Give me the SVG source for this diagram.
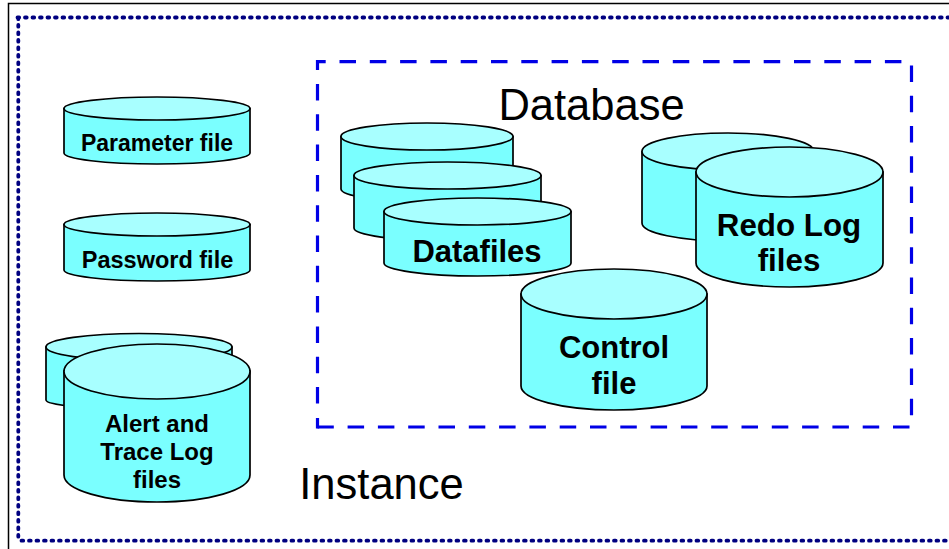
<svg xmlns="http://www.w3.org/2000/svg" width="949" height="549" viewBox="0 0 949 549">
<style>
text{font-family:"Liberation Sans",Arial,sans-serif;text-anchor:middle;fill:#000}
.b{font-weight:bold}
.l{font-size:43.500px}
.body{fill:#7affff;stroke:#000;stroke-width:1.700}
.top{fill:#a8ffff;stroke:#000;stroke-width:1.700}
.inst{fill:none;stroke:#000080;stroke-width:3.800;stroke-dasharray:1.700 5.800;stroke-linecap:round}
.db{fill:none;stroke:#0000e6;stroke-width:3.200;stroke-dasharray:16.500 13.800}
</style>
<rect width="949" height="549" fill="#fff"/>
<path d="M8.500 549V3.500H949" fill="none" stroke="#000" stroke-width="1.500"/>
<g id="instance-boundary"><path class="inst" d="M17.500 17.500H980M18.300 17.500V541M21.500 540.700H980"/></g>
<g id="database-boundary"><path class="db" d="M317.500 70V61.700H911.500V427H317.500"/><path class="db" d="M317.500 428.600V418M317.500 403.500V83"/></g>
<text id="database-label" x="591.500" y="120" class="l">Database</text>
<text id="instance-label" x="381.500" y="499" class="l">Instance</text>
<g id="parameter-file"><path class="body" d="M64 108.500V153C64 159 105 164 157 164S250 159 250 153V108.500Z"/><ellipse class="top" cx="157" cy="108.500" rx="93" ry="11.500"/><text class="b" font-size="23" x="157" y="151">Parameter file</text></g>
<g id="password-file"><path class="body" d="M64 224.500V270C64 276 105 281 157 281S250 276 250 270V224.500Z"/><ellipse class="top" cx="157" cy="224.500" rx="93" ry="11.500"/><text class="b" font-size="23.500" x="157.500" y="268">Password file</text></g>
<g id="alert-back"><path class="body" d="M46 347V400C46 405 87 409 139 409S232 405 232 400V347Z"/><ellipse class="top" cx="139" cy="347" rx="93" ry="13.500"/></g>
<g id="alert-trace-log-files"><path class="body" d="M64 371V475C64 490 105 502 157 502S250 490 250 475V371Z"/><ellipse class="top" cx="157" cy="371.500" rx="93" ry="27.500"/><text class="b" font-size="24" x="157" y="432">Alert and</text><text class="b" font-size="24" x="157" y="460">Trace Log</text><text class="b" font-size="24" x="157" y="488">files</text></g>
<g id="datafile-1"><path class="body" d="M341 136.500V189C341 196 380 202 427 202S513 196 513 189V136.500Z"/><ellipse class="top" cx="427" cy="136.500" rx="86" ry="13.500"/></g>
<g id="datafile-2"><path class="body" d="M354 175.500V228C354 235 395 241 447.500 241S541 235 541 228V175.500Z"/><ellipse class="top" cx="447.500" cy="175.500" rx="93.500" ry="13.500"/></g>
<g id="datafiles"><path class="body" d="M384 211.500V263C384 270 425 276 477.500 276S571 270 571 263V211.500Z"/><ellipse class="top" cx="477.500" cy="211.500" rx="93.500" ry="13.500"/><text class="b" font-size="31" x="477" y="262">Datafiles</text></g>
<g id="redo-back"><path class="body" d="M642 151.500V223C642 233 680 241 728 241S814 233 814 223V151.500Z"/><ellipse class="top" cx="728" cy="151.500" rx="86" ry="18.500"/></g>
<g id="redo-log-files"><path class="body" d="M696 172V263C696 276 737 287 789.500 287S883 276 883 263V172Z"/><ellipse class="top" cx="789.500" cy="172" rx="93.500" ry="25"/><text class="b" font-size="31.300" x="789" y="236">Redo Log</text><text class="b" font-size="31.300" x="789" y="271">files</text></g>
<g id="control-file"><path class="body" d="M521 294V386C521 399 562 410 614 410S707 399 707 386V294Z"/><ellipse class="top" cx="614" cy="294" rx="93" ry="25"/><text class="b" font-size="31" x="614" y="358">Control</text><text class="b" font-size="31" x="614" y="394">file</text></g>
</svg>
